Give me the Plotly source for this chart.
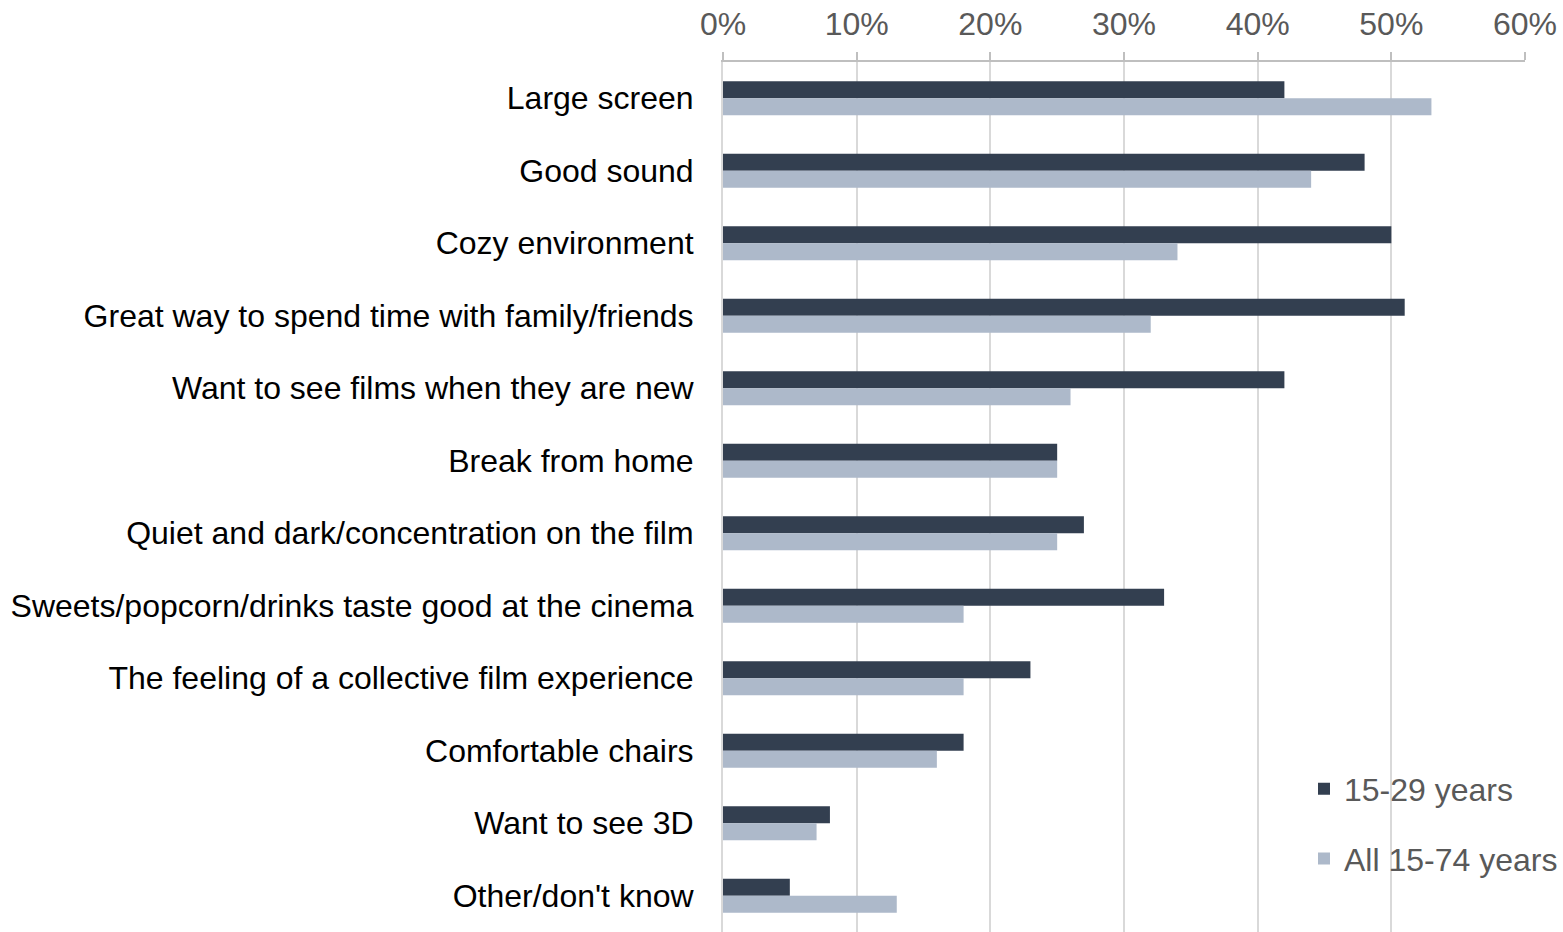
import plotly.graph_objects as go

categories = [
    "Large screen",
    "Good sound",
    "Cozy environment",
    "Great way to spend time with family/friends",
    "Want to see films when they are new",
    "Break from home",
    "Quiet and dark/concentration on the film",
    "Sweets/popcorn/drinks taste good at the cinema",
    "The feeling of a collective film experience",
    "Comfortable chairs",
    "Want to see 3D",
    "Other/don't know",
]
young = [42, 48, 50, 51, 42, 25, 27, 33, 23, 18, 8, 5]
everyone = [53, 44, 34, 32, 26, 25, 25, 18, 18, 16, 7, 13]
series_names = ["15-29 years", "All 15-74 years"]
tick_vals = [0, 10, 20, 30, 40, 50, 60]
tick_text = ["0%", "10%", "20%", "30%", "40%", "50%", "60%"]

DARK = "#333F50"
LIGHT = "#ADB9CA"
FONT = "Liberation Sans, Arial, sans-serif"

fig = go.Figure()
for name, vals, col in [(series_names[0], young, DARK), (series_names[1], everyone, LIGHT)]:
    fig.add_trace(go.Bar(
        y=categories, x=vals, name=name, orientation="h",
        marker=dict(color=col, line=dict(width=0)),
        legendgroup=name,
    ))

fig.update_layout(
    width=1563, height=932,
    margin=dict(l=723, r=38, t=62, b=0),
    paper_bgcolor="white", plot_bgcolor="white",
    barmode="group", bargap=0.53, bargroupgap=0,
    font=dict(family=FONT, size=32, color="#000000"),
    legend=dict(
        x=(1304 - 723) / 802, xanchor="left", y=0.196, yanchor="top",
        font=dict(size=32, color="#595959"),
        traceorder="grouped", tracegroupgap=25,
        bgcolor="rgba(0,0,0,0)", itemwidth=30,
    ),
    xaxis=dict(
        side="top", range=[0, 60], tickvals=tick_vals, ticktext=tick_text,
        showgrid=True, gridcolor="#D9D9D9", gridwidth=2,
        showline=True, linecolor="#BFBFBF", linewidth=2,
        ticks="outside", ticklen=8, tickcolor="#BFBFBF", tickwidth=2,
        ticklabelstandoff=4,
        tickfont=dict(size=32, color="#595959"), zeroline=False,
    ),
    yaxis=dict(
        autorange="reversed", showgrid=False,
        showline=True, linecolor="#D9D9D9", linewidth=2,
        ticks="", ticklabelstandoff=21,
        tickfont=dict(size=32, color="#000000"),
    ),
)

fig.write_html("out.html")
